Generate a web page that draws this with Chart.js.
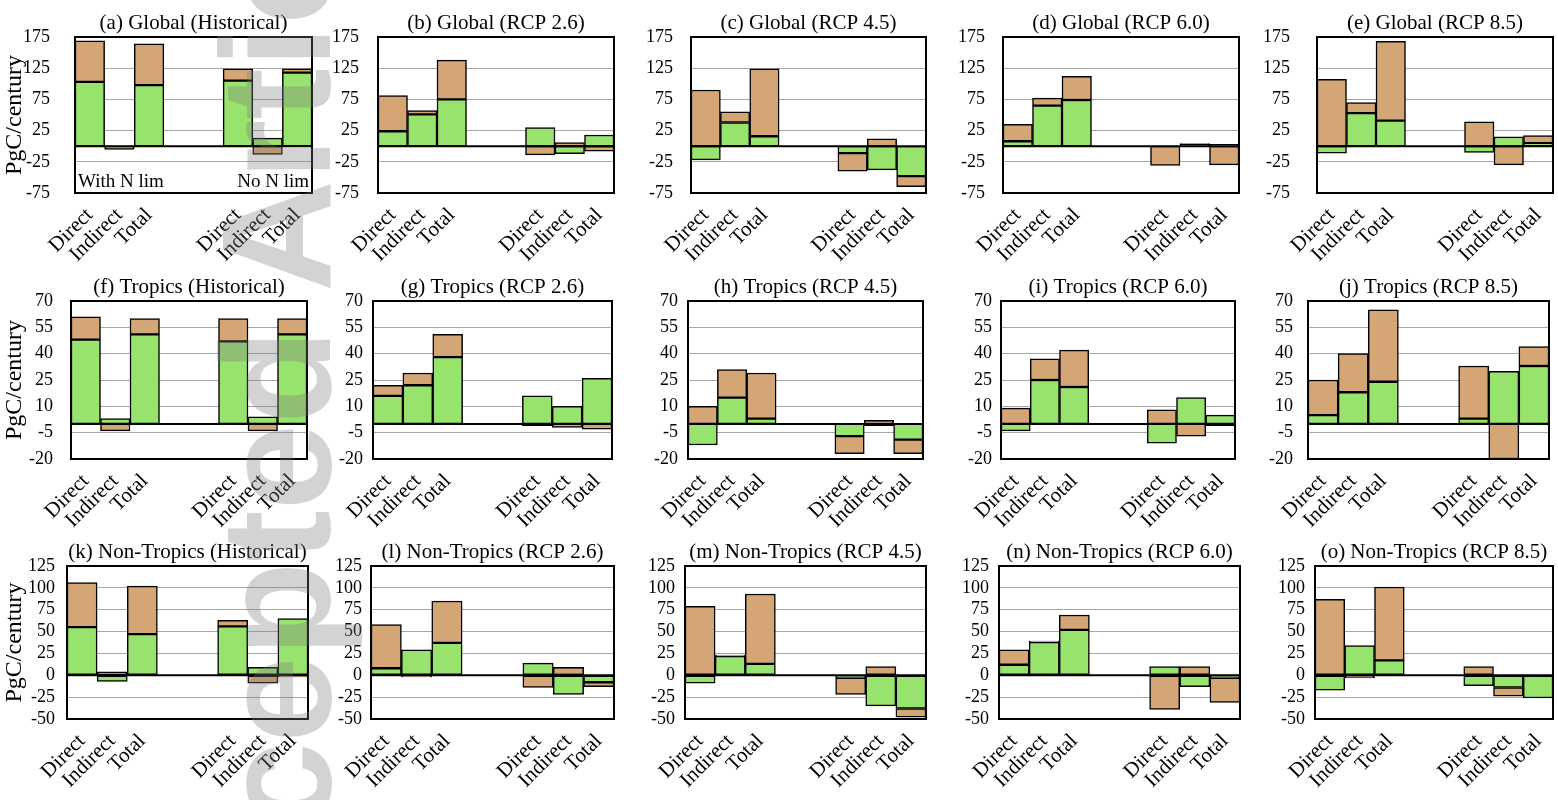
<!DOCTYPE html>
<html><head><meta charset="utf-8">
<script src="https://cdn.jsdelivr.net/npm/chart.js@4"></script>
<style>
body{margin:0;background:#fff;width:1558px;height:800px;position:relative;overflow:hidden;}
canvas{position:absolute;}
#wm{position:absolute;left:199px;top:1027px;transform-origin:0 0;transform:rotate(-90deg);
  font:bold 155px 'Liberation Sans',Arial,sans-serif;line-height:1;white-space:nowrap;
  color:rgba(120,120,120,0.33);pointer-events:none;z-index:10;}
</style></head><body>
<script>
// ---------- DATA ----------
const categories = ['Direct','Indirect','Total','','','Direct','Indirect','Total'];
const seriesNames = ['Green component','Tan component'];
const globalTicks = [-75,-25,25,75,125,175];
const tropicsTicks = [-20,-5,10,25,40,55,70];
const nonTropicsTicks = [-50,-25,0,25,50,75,100,125];

const titles = [
  '(a) Global (Historical)','(b) Global (RCP 2.6)','(c) Global (RCP 4.5)','(d) Global (RCP 6.0)','(e) Global (RCP 8.5)',
  '(f) Tropics (Historical)','(g) Tropics (RCP 2.6)','(h) Tropics (RCP 4.5)','(i) Tropics (RCP 6.0)','(j) Tropics (RCP 8.5)',
  '(k) Non-Tropics (Historical)','(l) Non-Tropics (RCP 2.6)','(m) Non-Tropics (RCP 4.5)','(n) Non-Tropics (RCP 6.0)','(o) Non-Tropics (RCP 8.5)'
];

// Global
const greenA = [103,-5,98,null,null,105,13,118];
const tanA   = [66,null,66,null,null,19,-13,6];
const greenB = [24,51,75,null,null,30,-12,18];
const tanB   = [57,6,63,null,null,-14,6,-8];
const greenC = [-22,38,16,null,null,-11,-38,-48];
const tanC   = [90,17,108,null,null,-29,12,-17];
const greenD = [8,65,74,null,null,null,3,3];
const tanD   = [27,12,38,null,null,-31,1,-30];
const greenE = [-11,53,41,null,null,-10,15,5];
const tanE   = [107,17,127,null,null,39,-30,12];
// Tropics
const greenF = [48,3,51,null,null,47,4,51];
const tanF   = [13,-4,9,null,null,13,-4,9];
const greenG = [16,22,38,null,null,16,10,26];
const tanG   = [6,7,13,null,null,-1,-2,-3];
const greenH = [-12,15,3,null,null,-7,-1,-9];
const tanH   = [10,16,26,null,null,-10,2,-8];
const greenI = [-4,25,21,null,null,-11,15,5];
const tanI   = [9,12,21,null,null,8,-7,-1];
const greenJ = [5,18,24,null,null,3,30,33];
const tanJ   = [20,22,41,null,null,30,-20,11];
// Non-Tropics
const greenK = [55,-7,47,null,null,56,9,65];
const tanK   = [51,4,55,null,null,7,-9,-2];
const greenL = [8,29,37,null,null,14,-22,-8];
const tanL   = [50,-2,48,null,null,-14,9,-5];
const greenM = [-9,22,13,null,null,-3,-35,-38];
const tanM   = [79,1,80,null,null,-19,10,-10];
const greenN = [12,38,52,null,null,10,-13,-3];
const tanN   = [17,1,17,null,null,-39,10,-28];
const greenO = [-17,34,17,null,null,-12,-14,-26];
const tanO   = [87,-3,84,null,null,10,-10,null];

const greens = [greenA,greenB,greenC,greenD,greenE,greenF,greenG,greenH,greenI,greenJ,greenK,greenL,greenM,greenN,greenO];
const tans   = [tanA,tanB,tanC,tanD,tanE,tanF,tanG,tanH,tanI,tanJ,tanK,tanL,tanM,tanN,tanO];
const rowTicks = [globalTicks, tropicsTicks, nonTropicsTicks];

// ---------- LAYOUT ----------
const rows = [
  {top:37, bottom:193, lefts:[75,378,691,1003,1317], rights:[312,614,926,1239,1553], pad:[25,19,18,18,27]},
  {top:301, bottom:459, lefts:[71,373,688,1001,1308], rights:[307,612,923,1235,1549], pad:[18,10,10,9,15]},
  {top:566, bottom:719, lefts:[67,371,685,999,1315], rights:[308,614,926,1240,1553], pad:[12,9,10,10,10]}
];
const GREEN = '#98E26E', TAN = '#D4A676';
const FONT = "'Liberation Serif','Times New Roman',serif";
const PAD_TOP = 50, X_H = 80, PAD_R = 15;

const framePlugin = {
  id:'frame',
  afterDatasetsDraw(chart){
    const {ctx, chartArea:a, scales} = chart;
    const y0 = scales.y.getPixelForValue(0);
    ctx.save();
    ctx.strokeStyle = '#000';
    ctx.lineWidth = 2;
    ctx.beginPath(); ctx.moveTo(a.left, y0); ctx.lineTo(a.right, y0); ctx.stroke();
    ctx.strokeRect(a.left, a.top, a.right - a.left, a.bottom - a.top);
    const o = chart.options.plugins.frame;
    ctx.fillStyle = '#000';
    ctx.font = '21px ' + FONT;
    ctx.textAlign = 'center'; ctx.textBaseline = 'middle';
    ctx.fillText(o.title, (a.left + a.right)/2, a.top - 14);
    if (o.notes) {
      ctx.font = '19px ' + FONT;
      ctx.textAlign = 'left';
      ctx.fillText(o.notes[0], a.left + 3, a.bottom - 11);
      ctx.textAlign = 'right';
      ctx.fillText(o.notes[1], a.right - 3, a.bottom - 11);
    }
    ctx.restore();
  }
};

for (let r = 0; r < 3; r++) {
  const R = rows[r];
  for (let c = 0; c < 5; c++) {
    const i = r*5 + c;
    const plotW = R.rights[c] - R.lefts[c];
    const plotH = R.bottom - R.top;
    const yW = c === 0 ? R.lefts[c] : 62;
    const cv = document.createElement('canvas');
    const W = yW + plotW + PAD_R, H = PAD_TOP + plotH + X_H;
    cv.width = W; cv.height = H;
    cv.style.width = W + 'px'; cv.style.height = H + 'px';
    cv.style.left = (R.lefts[c] - yW) + 'px';
    cv.style.top = (R.top - PAD_TOP) + 'px';
    document.body.appendChild(cv);
    const ticks = rowTicks[r];
    new Chart(cv, {
      type:'bar',
      data:{
        labels:categories,
        datasets:[
          {label:seriesNames[0], data:greens[i], backgroundColor:GREEN, borderColor:'#000', borderWidth:1.5, borderSkipped:false},
          {label:seriesNames[1], data:tans[i], backgroundColor:TAN, borderColor:'#000', borderWidth:1.5, borderSkipped:false}
        ]
      },
      options:{
        responsive:false, animation:false, devicePixelRatio:1,
        layout:{padding:{top:PAD_TOP, right:PAD_R, left:0, bottom:0}},
        datasets:{bar:{categoryPercentage:1, barPercentage:1}},
        plugins:{legend:{display:false}, tooltip:{enabled:false},
          frame:{title:titles[i], notes: i===0 ? ['With N lim','No N lim'] : null}},
        scales:{
          x:{stacked:true, grid:{display:false}, border:{display:false},
             ticks:{autoSkip:false, maxRotation:45, minRotation:45, color:'#000', padding:2, font:{family:FONT, size:21}},
             afterFit(s){ s.height = X_H; }},
          y:{stacked:true, min:ticks[0], max:ticks[ticks.length-1],
             afterBuildTicks(s){ s.ticks = ticks.map(v => ({value:v})); },
             grid:{color:'#a6a6a6', lineWidth:1, drawTicks:false}, border:{display:false},
             ticks:{autoSkip:false, color:'#000', padding:R.pad[c], font:{family:FONT, size:18}},
             title:{display:c===0, text:'PgC/century', color:'#000', font:{family:FONT, size:24}, padding:{top:0,bottom:0}},
             afterFit(s){ s.width = yW; }}
        }
      },
      plugins:[framePlugin]
    });
  }
}
const wm = document.createElement('div');
wm.id = 'wm';
wm.textContent = 'Accepted Article';
document.body.appendChild(wm);
</script>
</body></html>
